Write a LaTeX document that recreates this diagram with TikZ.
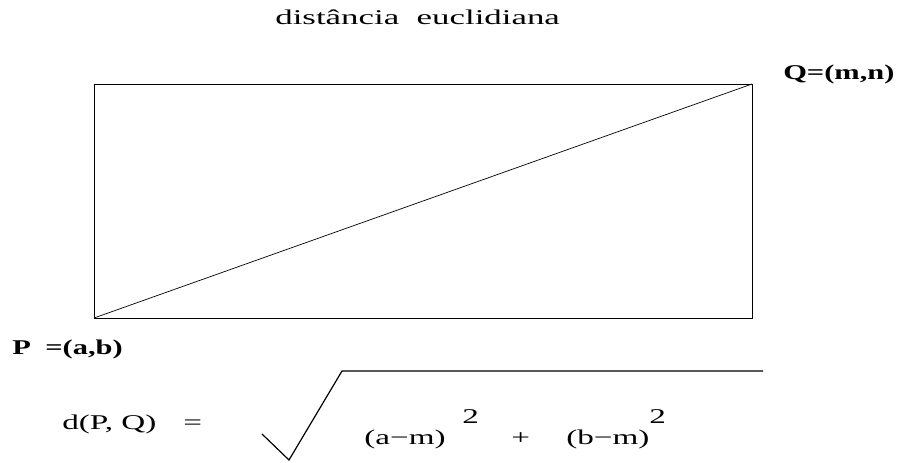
\documentclass[tikz,border=0pt]{standalone}
\usepackage{fontspec}
\setmainfont{Liberation Serif}
\begin{document}
\begin{tikzpicture}[x=1pt,y=-1pt,
  txt/.style={inner sep=0pt, anchor=base west, font=\fontsize{21}{24}\selectfont, xscale=1.58},
  btxt/.style={txt, font=\fontsize{21}{24}\selectfont\bfseries, xscale=1.45/1.58},
  thin line/.style={line width=0.7pt},
  root line/.style={line width=1.2pt}]
\useasboundingbox (0,0) rectangle (903,463);
\node[txt, xscale=1.66/1.58] (title) at (275,24) {distância\ \ euclidiana};
\coordinate (P0) at (94,318);
\coordinate (Q0) at (752,84);
\draw[thin line] (P0) rectangle (Q0);
\draw[thin line] (P0) -- (Q0);
\node[btxt] (Q) at (783,79) {Q=(m,n)};
\node[btxt] (P) at (12,354) {P\hspace{10pt}=(a,b)};
\node[txt] (d) at (62,429) {d(P, Q)};
\node[txt] (eq) at (183,429) {=};
\coordinate (s1) at (262,434);
\coordinate (s2) at (289,460);
\coordinate (s3) at (342,371);
\coordinate (s4) at (763,371);
\draw[root line] (s1) -- (s2) -- (s3) -- (s4);
\node[txt] (am) at (364,444) {(a−m)};
\node[txt] (e1) at (462,423) {2};
\node[txt] (plus) at (511,444) {+};
\node[txt] (bm) at (566,444) {(b−m)};
\node[txt] (e2) at (649,423) {2};
\end{tikzpicture}
\end{document}
